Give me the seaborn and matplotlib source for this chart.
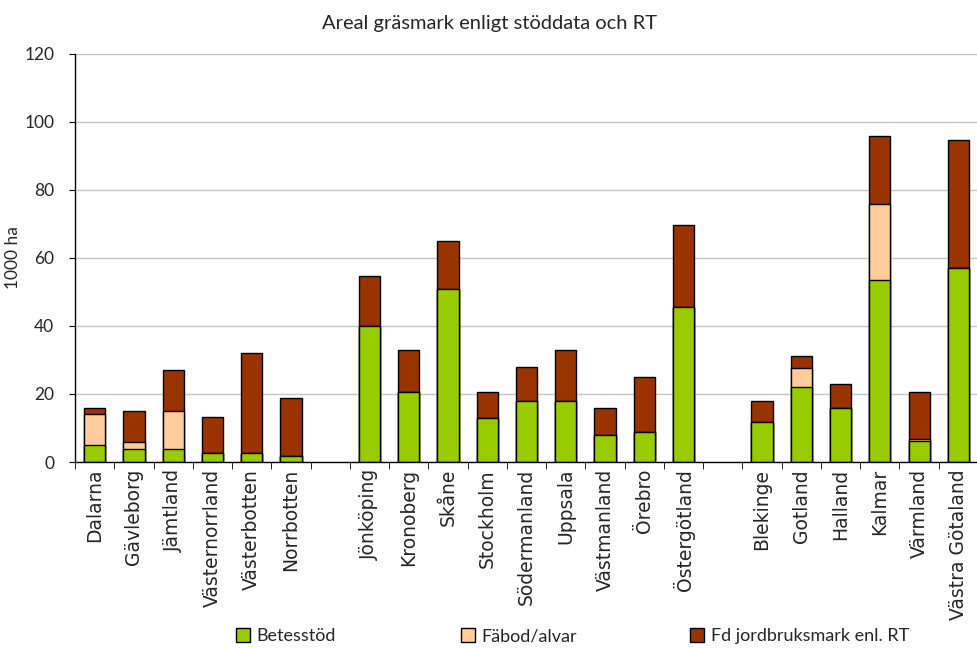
import matplotlib.pyplot as plt
import numpy as np
import pandas as pd
import seaborn as sns
from matplotlib.patches import Patch

sns.set_style("white")

# Data (1000 ha)
counties = [
    "Dalarna", "Gävleborg", "Jämtland", "Västernorrland", "Västerbotten", "Norrbotten",
    "Jönköping", "Kronoberg", "Skåne", "Stockholm", "Södermanland", "Uppsala",
    "Västmanland", "Örebro", "Östergötland",
    "Blekinge", "Gotland", "Halland", "Kalmar", "Värmland", "Västra Götaland",
]
betesstod = [5.0, 3.7, 3.7, 2.7, 2.7, 1.8,
             40.0, 20.6, 50.8, 13.0, 17.8, 17.8, 7.9, 8.8, 45.6,
             11.7, 22.1, 15.9, 53.6, 6.1, 57.0]
fabod = [9.0, 2.3, 11.2, 0, 0, 0,
         0, 0, 0, 0, 0, 0, 0, 0, 0,
         0, 5.5, 0, 22.2, 0.8, 0]
fd_jordbruk = [2.0, 9.0, 12.1, 10.4, 29.3, 17.1,
               14.6, 12.3, 14.2, 7.7, 10.0, 15.1, 8.1, 16.2, 24.1,
               6.1, 3.5, 7.1, 19.9, 13.7, 37.6]

group_order = counties[:6] + [" "] + counties[6:15] + ["  "] + counties[15:]

series_names = ["Betesstöd", "Fäbod/alvar", "Fd jordbruksmark enl. RT"]
series_colors = ["#99CC00", "#FFCC99", "#993300"]

df = pd.DataFrame({"Län": counties, "Betesstöd": betesstod,
                   "Fäbod/alvar": fabod, "Fd": fd_jordbruk})
df["lvl1"] = df["Betesstöd"]
df["lvl2"] = df["lvl1"] + df["Fäbod/alvar"]
df["lvl3"] = df["lvl2"] + df["Fd"]

fig = plt.figure(figsize=(9.78, 6.48), dpi=100)
ax = fig.add_axes([0.0767, 0.287, 0.9233, 0.63])

# stacked bars: draw cumulative totals from the top segment down
for col, c in [("lvl3", "#993300"), ("lvl2", "#FFCC99"), ("lvl1", "#99CC00")]:
    sns.barplot(data=df, x="Län", y=col, order=group_order, color=c,
                width=0.54, edgecolor="black", linewidth=1.0, ax=ax,
                errorbar=None, saturation=1)

ax.set_xlim(-0.5, len(group_order) - 0.5)
ax.set_ylim(0, 120)
ax.set_yticks(np.arange(0, 121, 20))
ax.yaxis.grid(True, color="#c4c4c4", linewidth=1.0)
ax.set_axisbelow(True)
for s in ["top", "right"]:
    ax.spines[s].set_visible(False)
for s in ["left", "bottom"]:
    ax.spines[s].set_color("black")
    ax.spines[s].set_linewidth(1.0)

ax.set_xticks(range(len(group_order)))
ax.set_xticklabels(group_order, rotation=90, fontsize=13.5, family="DejaVu Sans")
ax.tick_params(axis="x", which="major", length=0, pad=5)
ax.set_xticks(np.arange(-0.5, len(group_order), 1), minor=True)
ax.tick_params(axis="x", which="minor", length=5, color="black", direction="out", bottom=True)
ax.tick_params(axis="y", length=4, color="black", direction="out", left=True,
               labelsize=12.5, pad=11)
for t in ax.get_yticklabels():
    t.set_family("Lato")

ax.set_xlabel("")
ax.set_ylabel("1000 ha", fontsize=12.5, family="Lato", labelpad=2)
# title centred on the figure, not the axes
ax.set_title("Areal gräsmark enligt stöddata och RT", fontsize=14.5,
             family="Lato", pad=18, x=(489 - 75) / 903)

# one legend per entry so the columns are evenly spread like the original
legend_x = [236, 461, 690]
for name, c, x in zip(series_names, series_colors, legend_x):
    fig.legend(handles=[Patch(facecolor=c, edgecolor="black", linewidth=1.0, label=name)],
               loc="center left", bbox_to_anchor=(x / 978, 0.0185),
               frameon=False, prop={"family": "Lato", "size": 13},
               handlelength=0.8, handleheight=0.8, handletextpad=0.35,
               borderpad=0, borderaxespad=0)

plt.savefig("out.png", dpi=100)
